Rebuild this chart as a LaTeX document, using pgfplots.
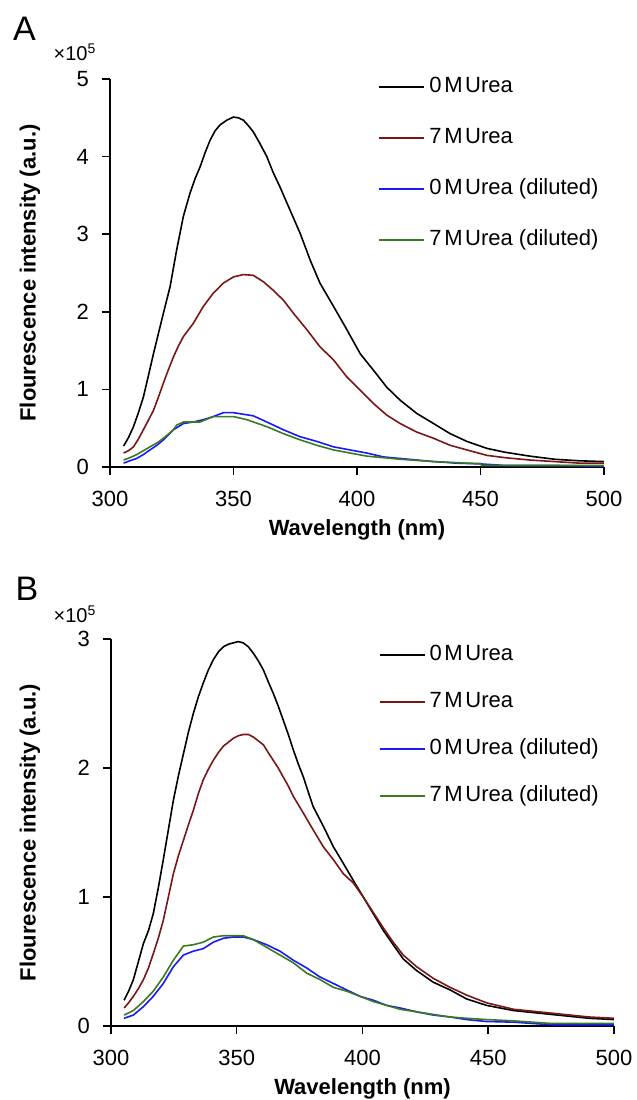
\documentclass[border=0pt]{standalone}
\usepackage{fontspec}
\setmainfont{Liberation Sans}
\usepackage{pgfplots}
\pgfplotsset{compat=1.18}
\definecolor{cblack}{RGB}{0,0,0}
\definecolor{cred}{RGB}{122,22,22}
\definecolor{cblue}{RGB}{25,25,250}
\definecolor{cgreen}{RGB}{58,122,32}
\newcommand{\Urea}[1]{#1\kern0.12em M\kern0.12em Urea}
\pgfplotsset{
  myaxis/.style={
    scale only axis,
    axis lines=left,
    axis line style={-, line width=0.75pt},
    tick style={line width=0.75pt, black},
    tick align=outside,
    major tick length=4pt,
    xmin=300, xmax=500, ymin=0,
    xtick={300,350,400,450,500},
    scaled ticks=false,
    /pgf/number format/assume math mode=true,
    xticklabel style={font=\fontsize{11}{13}\selectfont, anchor=north, yshift=-4.5pt},
    yticklabel style={font=\fontsize{11}{13}\selectfont, anchor=east, xshift=-3pt},
    label style={font=\fontsize{11}{13}\selectfont\bfseries},
    xlabel={Wavelength (nm)},
    ylabel={Flourescence intensity (a.u.)},
    every axis plot/.append style={line width=0.8pt},
    legend cell align=left,
    legend image code/.code={\draw[#1, line width=1pt] (0pt,0pt) -- (22.5pt,0pt);},
  }
}
\begin{document}
\begin{tikzpicture}
\useasboundingbox (0,0) rectangle (318.5pt,-550pt);
% ---------------- Panel A
\node[font=\fontsize{17}{19}\selectfont] at (12.25pt,-14.5pt) {A};
\node[font=\fontsize{10}{12}\selectfont] at (37.5pt,-26pt) {×10\textsuperscript{5}};
\begin{axis}[myaxis,
  at={(55pt,-233.5pt)}, anchor=south west,
  width=247pt, height=194pt,
  ymax=5, ytick={0,1,2,3,4,5},
  xlabel style={at={(axis description cs:0.5,-0.163)}, anchor=center},
  ylabel style={at={(axis description cs:-0.162,0.5)}, anchor=center},
  legend style={at={(rel axis cs:0.5425,0.781)}, anchor=west, draw=none, fill=none,
    inner sep=0pt, font=\fontsize{11}{13}\selectfont,
    nodes={inner sep=0pt, text height=8pt, text depth=2.5pt},
    row sep=15pt,
    /tikz/every odd column/.append style={column sep=2pt}},
]
\addplot[cblack] coordinates {
(305.5,0.27) (307.5,0.38) (309.5,0.52) (311.5,0.70) (313.5,0.90) (315.5,1.17) (317.6,1.46)
(319.6,1.72) (321.6,1.98) (324.3,2.32) (327,2.80) (329.7,3.23) (332.4,3.53) (334.5,3.72)
(336.5,3.87) (338.5,4.05) (340.5,4.21) (342.5,4.33) (344.6,4.41) (347.3,4.47) (350,4.51)
(352,4.50) (354,4.47) (356,4.40) (358,4.32) (360.5,4.18) (363.5,4.00) (366,3.80)
(368.8,3.61) (372.9,3.31) (377,3.01) (381,2.67) (385,2.37) (390.5,2.07) (395.9,1.77)
(401.3,1.46) (406.6,1.25) (412,1.03) (417.5,0.86) (424.2,0.69) (431,0.56) (437.7,0.43)
(444.5,0.33) (452.6,0.24) (460,0.19) (470,0.14) (480,0.10) (490,0.08) (500,0.07)
};
\addlegendentry{\Urea{0}}
\addplot[cred] coordinates {
(305.5,0.18) (307.5,0.21) (309.5,0.26) (311.5,0.36) (313.5,0.48) (315.5,0.60) (317.6,0.73)
(319.6,0.90) (321.6,1.08) (323.6,1.25) (325.7,1.42) (327.7,1.56) (329.7,1.68) (333.7,1.85)
(337.8,2.07) (341.8,2.24) (345.9,2.37) (350,2.45) (354,2.48) (358,2.47) (362,2.39)
(366,2.28) (370.2,2.15) (374.3,1.98) (379.7,1.77) (385,1.55) (390.5,1.38) (395.9,1.16)
(401.3,0.99) (406.6,0.82) (412,0.67) (417.5,0.56) (424.2,0.45) (431,0.37) (437.7,0.28)
(444.5,0.22) (452.6,0.15) (460,0.12) (470,0.09) (480,0.07) (490,0.05) (500,0.05)
};
\addlegendentry{\Urea{7}}
\addplot[cblue] coordinates {
(305.5,0.05) (308,0.08) (310.8,0.11) (313.5,0.16) (316.2,0.22) (319,0.28) (321.6,0.35)
(325.7,0.48) (329.7,0.56) (333.7,0.58) (337.8,0.61) (341.8,0.65) (345.9,0.70) (350,0.70)
(354,0.68) (358,0.66) (363.5,0.58) (370.2,0.48) (377,0.39) (383.7,0.33) (390.5,0.26)
(397.2,0.22) (404,0.18) (410.7,0.13) (417.5,0.11) (424.2,0.09) (431,0.07) (436,0.06)
(440,0.05) (450,0.04) (460,0.02) (480,0.02) (500,0.01)
};
\addlegendentry{\Urea{0} (diluted)}
\addplot[cgreen] coordinates {
(305.5,0.09) (308,0.12) (310.8,0.16) (313.5,0.21) (316.2,0.26) (319,0.31) (321.6,0.37)
(325.7,0.48) (327,0.54) (329.7,0.58) (336.5,0.58) (341.8,0.65) (350,0.65) (355.4,0.61)
(363.5,0.52) (370.2,0.43) (377,0.35) (383.7,0.28) (390.5,0.22) (397.2,0.18) (404,0.14)
(410.7,0.12) (417.5,0.10) (431,0.07) (444.5,0.05) (450,0.045) (450.5,0.02) (500,0.02)
};
\addlegendentry{\Urea{7} (diluted)}
\end{axis}
% ---------------- Panel B
\node[font=\fontsize{17}{19}\selectfont] at (13.5pt,-294.5pt) {B};
\node[font=\fontsize{10}{12}\selectfont] at (37.5pt,-307pt) {×10\textsuperscript{5}};
\begin{axis}[myaxis,
  at={(55.5pt,-513pt)}, anchor=south west,
  width=251.5pt, height=193.5pt,
  ymax=3, ytick={0,1,2,3},
  xlabel style={at={(axis description cs:0.5,-0.163)}, anchor=center},
  ylabel style={at={(axis description cs:-0.161,0.5)}, anchor=center},
  legend style={at={(rel axis cs:0.5311,0.7766)}, anchor=west, draw=none, fill=none,
    inner sep=0pt, font=\fontsize{11}{13}\selectfont,
    nodes={inner sep=0pt, text height=8pt, text depth=2.5pt},
    row sep=13pt,
    /tikz/every odd column/.append style={column sep=2pt}},
]
\addplot[cblack] coordinates {
(305.2,0.20) (307,0.27) (308.9,0.36) (310.9,0.50) (312.9,0.64) (314.9,0.74) (316.8,0.87)
(318.8,1.07) (320.8,1.29) (322.8,1.52) (324.8,1.75) (326.8,1.94) (328.8,2.11) (330.8,2.28)
(332.7,2.42) (334.7,2.55) (336.7,2.66) (338.7,2.76) (340.7,2.84) (342.7,2.90) (344.7,2.94)
(346.7,2.96) (348.6,2.97) (350.6,2.98) (352.6,2.97) (354.6,2.94) (356.6,2.89) (358.6,2.83)
(360.6,2.76) (362.5,2.67) (364.5,2.58) (366.5,2.48) (368.5,2.37) (370.5,2.26) (372.5,2.14)
(374.5,2.03) (376.5,1.93) (378.5,1.81) (380.4,1.70) (384.4,1.55) (388.4,1.39) (392.4,1.26)
(396.3,1.13) (400.3,1.00) (404.3,0.87) (408.3,0.74) (412.2,0.63) (416.2,0.52) (421.5,0.43)
(428.1,0.34) (434.8,0.28) (441.4,0.21) (449.3,0.16) (460,0.12) (470,0.10) (480,0.08)
(490,0.06) (500,0.05)
};
\addlegendentry{\Urea{0}}
\addplot[cred] coordinates {
(305.2,0.14) (307,0.18) (308.9,0.23) (310.9,0.29) (312.9,0.36) (314.9,0.45) (316.8,0.56)
(318.8,0.68) (320.8,0.82) (322.8,1.00) (324.8,1.18) (326.8,1.32) (328.8,1.44) (330.8,1.56)
(332.7,1.67) (334.7,1.80) (336.7,1.91) (338.7,1.99) (340.7,2.06) (342.7,2.12) (344.7,2.17)
(346.7,2.20) (348.6,2.23) (350.6,2.25) (352.6,2.26) (354.6,2.26) (356.6,2.24) (358.6,2.21)
(360.6,2.18) (362.5,2.12) (364.5,2.06) (366.5,2.00) (368.5,1.93) (370.5,1.86) (372.5,1.78)
(376.5,1.65) (380.4,1.52) (384.4,1.39) (388.4,1.29) (392.4,1.18) (396.3,1.11) (400.3,1.00)
(404.3,0.88) (408.3,0.76) (412.2,0.65) (416.2,0.55) (421.5,0.46) (428.1,0.37) (434.8,0.30)
(441.4,0.24) (449.3,0.18) (460,0.13) (470,0.11) (480,0.09) (490,0.07) (500,0.06)
};
\addlegendentry{\Urea{7}}
\addplot[cblue] coordinates {
(305.2,0.06) (308.9,0.085) (312.9,0.15) (316.8,0.23) (320.8,0.33) (324.8,0.46) (328.8,0.55)
(332.7,0.58) (336.7,0.60) (340.7,0.65) (344.7,0.68) (348.6,0.69) (352.6,0.69) (356.6,0.67)
(361.9,0.63) (367.2,0.58) (372.5,0.51) (377.8,0.45) (383.1,0.38) (388.4,0.33) (393.7,0.28)
(399,0.23) (404.3,0.20) (409.6,0.16) (414.9,0.14) (421.5,0.11) (428.1,0.085) (434.8,0.07)
(441.4,0.05) (449.3,0.035) (460,0.03) (475,0.01) (490,0.01) (500,0.01)
};
\addlegendentry{\Urea{0} (diluted)}
\addplot[cgreen] coordinates {
(305.2,0.085) (308.9,0.12) (312.9,0.19) (316.8,0.27) (320.8,0.38) (324.8,0.51) (328.8,0.62)
(332.7,0.63) (336.7,0.65) (340.7,0.69) (344.7,0.70) (352.6,0.70) (356.6,0.67) (361.9,0.61)
(367.2,0.55) (372.5,0.49) (377.8,0.41) (383.1,0.36) (388.4,0.30) (393.7,0.27) (399,0.23)
(404.3,0.19) (409.6,0.16) (414.9,0.13) (421.5,0.11) (428.1,0.09) (434.8,0.07) (441.4,0.06)
(449.3,0.05) (460,0.04) (475,0.02) (490,0.02) (500,0.02)
};
\addlegendentry{\Urea{7} (diluted)}
\end{axis}
\end{tikzpicture}
\end{document}
